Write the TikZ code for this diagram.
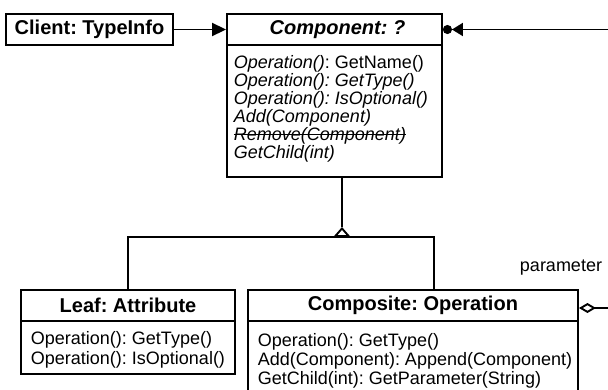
\documentclass[tikz,border=0pt]{standalone}
\usepackage{fontspec}
\setmainfont{Liberation Sans}
\usetikzlibrary{arrows.meta}
\frenchspacing
\newsavebox\mystrikebox
\newcommand\mystrike[1]{\sbox\mystrikebox{#1}\rlap{\usebox\mystrikebox}\rule[0.3em]{\wd\mystrikebox}{0.7pt}}
\begin{document}
\begin{tikzpicture}[x=1pt,y=-1pt,line width=1.9pt,
  hdr/.style={draw,minimum height=31pt,inner sep=0pt,font=\fontsize{20}{22}\selectfont\bfseries},
  bodybox/.style={draw,inner sep=0pt},
  txt/.style={anchor=north west,inner sep=0pt,align=left},
  lbl/.style={font=\fontsize{18}{20}\selectfont,inner sep=0pt}]
\clip (0,0) rectangle (608,389);
\useasboundingbox (0,0) rectangle (608,389);
% Client
\node[hdr,minimum width=167pt] (client) at (89.5,29.5) {Client: TypeInfo};
% Component
\node[hdr,minimum width=215pt] (comph) at (334.5,29.5) {\itshape\hspace*{6pt}Component: ?};
\node[bodybox,minimum width=215pt,minimum height=132pt] (compb) at (334.5,111) {};
\node[txt,font=\fontsize{18}{18}\selectfont] (compt) at (233,54.5) {%
\textit{Operation()}: GetName()\\
\textit{Operation(): GetType()}\\
\textit{Operation(): IsOptional()}\\
\textit{Add(Component)}\\
\textit{\mystrike{Remove(Component)}}\\
\textit{GetChild(int)}};
% Leaf
\node[hdr,minimum width=214pt] (leafh) at (128,305.5) {Leaf: Attribute};
\node[bodybox,minimum width=214pt,minimum height=53pt] (leafb) at (128,347.5) {};
\node[txt,font=\fontsize{18}{20}\selectfont] (leaft) at (30,330.5) {%
Operation(): GetType()\\
Operation(): IsOptional()};
% Composite
\node[hdr,minimum width=330pt] (compoh) at (413,305.5) {Composite: Operation};
\node[bodybox,minimum width=330pt,minimum height=80pt] (compob) at (413,361) {};
\node[txt,font=\fontsize{18}{19}\selectfont] (compot) at (257,332.5) {%
Operation(): GetType()\\
Add(Component): Append(Component)\\
GetChild(int): GetParameter(String)};
% connectors
\draw[-{Triangle[length=14pt,width=13pt]}] (client) -- (comph);
\coordinate (rin) at (608,29.5);
\draw[-{Triangle[length=11pt,width=13pt]Circle[length=9pt]}] (rin) -- (comph.east);
\coordinate (j) at (342,237);
\coordinate (apex) at (342,227);
\draw (leafh.north) |- (j) -| ([xshift=21pt]compoh.north);
\draw[-{Triangle[open,length=10pt,width=17pt]}] (j) -- (apex);
\draw (apex) -- ([xshift=7.5pt]compb.south);
\coordinate (din) at (608,308);
\draw[-{Diamond[open,length=17pt,width=10pt]}] (din) -- (compoh.east |- din);
\node[lbl] (plabel) at (561,268) {parameter};
\end{tikzpicture}
\end{document}
